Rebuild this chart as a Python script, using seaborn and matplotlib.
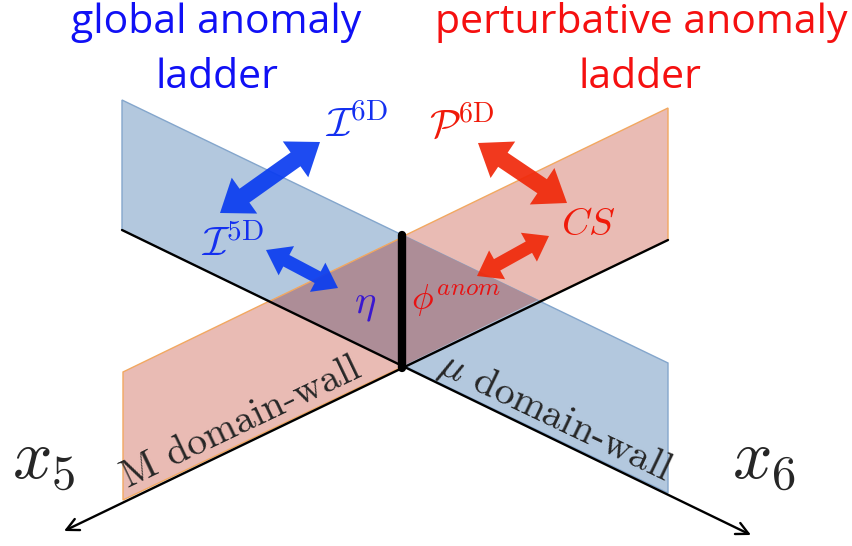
import numpy as np
import matplotlib.pyplot as plt
import seaborn as sns
from matplotlib.patches import Polygon

# geometry of the sketch, in picture pixels (x right, y down)
blue_plane = [(122, 100), (668, 363), (668, 493), (122, 230)]
red_plane = [(123, 372), (668, 108), (668, 240), (123, 500)]
overlap = [(405, 236), (538, 300), (403, 366), (270, 301)]
wall_x = [402, 402]
wall_y = [235, 368]
x5_axis = [(668, 240), (64, 531)]
x6_axis = [(122, 230), (751, 535)]

# double arrows: start, end, shaft width, head width, head length
blue_arrows = [((220, 213), (320, 142), 17, 44, 30),
               ((266, 250), (338, 288), 13, 33, 23)]
red_arrows = [((478, 143), (567, 203), 17, 44, 30),
              ((477, 276), (549, 236), 13, 33, 23)]

# label, x, baseline y, colour, size
labels = [
    (r'$\mathcal{I}^{6\mathrm{D}}$', 325, 137, '#1430f0', 30),
    (r'$\mathcal{I}^{5\mathrm{D}}$', 201, 256, '#1430f0', 30),
    (r'$\mathcal{P}^{6\mathrm{D}}$', 429, 137, '#f01a0a', 29),
    (r'$CS$', 561, 235, '#f01a0a', 28),
    (r'$\eta$', 354, 313, '#3a18d0', 29),
    (r'$\phi^{anom}$', 411, 310, '#e81212', 26),
]

BLUE_FILL, RED_FILL, MIX_FILL = '#b3c8de', '#e9bbb4', '#ad8d97'
BLUE_EDGE, RED_EDGE = '#84a6cc', '#f2a860'


def double_arrow(p0, p1, sw, hw, hl):
    p0, p1 = np.array(p0, float), np.array(p1, float)
    u = (p1 - p0) / np.linalg.norm(p1 - p0)
    n = np.array([-u[1], u[0]])
    a, b = p0 + u * hl, p1 - u * hl
    return [p0, a + n * hw / 2, a + n * sw / 2, b + n * sw / 2, b + n * hw / 2,
            p1, b - n * hw / 2, b - n * sw / 2, a - n * sw / 2, a - n * hw / 2]


sns.set_theme(style='white')
plt.rcParams['mathtext.fontset'] = 'cm'

fig = plt.figure(figsize=(8.53, 5.46), dpi=100)
ax = fig.add_axes([0, 0, 1, 1])

ax.add_patch(Polygon(red_plane, closed=True, fc=RED_FILL, ec=RED_EDGE, lw=1, zorder=1))
ax.add_patch(Polygon(blue_plane, closed=True, fc=BLUE_FILL, ec=BLUE_EDGE, lw=1, zorder=2))
ax.add_patch(Polygon(overlap, closed=True, fc=MIX_FILL, ec='none', zorder=3))
ax.plot([overlap[3][0], overlap[0][0]], [overlap[3][1], overlap[0][1]], color=RED_EDGE, lw=1, zorder=3)

for arrows, col in [(blue_arrows, '#0a3cf0'), (red_arrows, '#f0280a')]:
    for p0, p1, sw, hw, hl in arrows:
        ax.add_patch(Polygon(double_arrow(p0, p1, sw, hw, hl), closed=True,
                             fc=col, ec='none', alpha=0.92, zorder=4))

for start, end in [x5_axis, x6_axis]:
    ax.annotate('', xy=end, xytext=start,
                arrowprops=dict(arrowstyle='->', color='black', lw=1.7,
                                mutation_scale=22, shrinkA=0, shrinkB=0),
                zorder=5)

sns.lineplot(x=wall_x, y=wall_y, color='black', lw=6, ax=ax, zorder=6,
             estimator=None, sort=False)

for txt, x, y, col, size in labels:
    ax.text(x, y, txt, color=col, fontsize=size, ha='left', va='baseline', zorder=7)

ax.text(12, 478, r'$x_5$', fontsize=50, ha='left', va='baseline', zorder=7)
ax.text(732, 478, r'$x_6$', fontsize=50, ha='left', va='baseline', zorder=7)

ax.text(128, 488, 'M domain-wall', family='cmr10', fontsize=28.5, rotation=25.5,
        rotation_mode='anchor', ha='left', va='baseline', zorder=7)
ax.text(436, 372, r'$\mu$ domain-wall', family='cmr10', fontsize=29, rotation=-25.5,
        rotation_mode='anchor', ha='left', va='baseline', zorder=7)

title_font = dict(family='Open Sans', fontsize=29.5, ha='center', va='baseline')
ax.text(216, 33, 'global anomaly', color='#1010f5', **title_font)
ax.text(217, 88, 'ladder', color='#1010f5', **title_font)
ax.text(641, 33, 'perturbative anomaly', color='#f51010', **title_font)
ax.text(640, 88, 'ladder', color='#f51010', **title_font)

ax.set_xlim(0, 853)
ax.set_ylim(546, 0)
ax.axis('off')

fig.savefig('out.png', dpi=100)
